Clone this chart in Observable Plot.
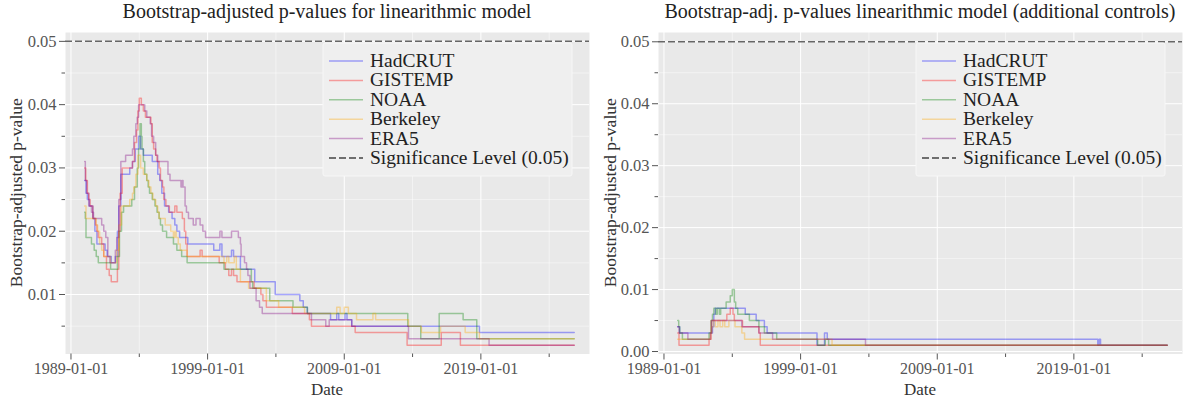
<!DOCTYPE html>
<html><head><meta charset="utf-8">
<script src="https://cdn.jsdelivr.net/npm/d3@7"></script>
<script src="https://cdn.jsdelivr.net/npm/@observablehq/plot@0.6"></script>
<style>
body{margin:0;background:#fff;}
#wrap{position:relative;width:1193px;height:400px;overflow:hidden;}
</style></head><body><div id="wrap"></div>
<script>
// ---------- data ----------
const seriesNames = ["HadCRUT", "GISTEMP", "NOAA", "Berkeley", "ERA5"];
const seriesColors = ["#0000ff", "#ff0000", "#008000", "#ffa500", "#800080"];
const sigLevel = 0.05;
const sigLabel = "Significance Level (0.05)";
const titleLeft = "Bootstrap-adjusted p-values for linearithmic model";
const titleRight = "Bootstrap-adj. p-values linearithmic model (additional controls)";
const yLabel = "Bootstrap-adjusted p-value";
const xLabel = "Date";
const xTickLabels = ["1989-01-01", "1999-01-01", "2009-01-01", "2019-01-01"];
const xMinorTickLabels = ["1994-01-01", "2004-01-01", "2014-01-01", "2024-01-01"];
const yTicksLeft = [0.01, 0.02, 0.03, 0.04, 0.05];
const yTicksRight = [0.00, 0.01, 0.02, 0.03, 0.04, 0.05];
const yMinorTicks = [0.005, 0.015, 0.025, 0.035, 0.045];

// [decimal year, p-value], step-after
const hadcrutLeft = [[1990.0,0.028],[1990.1,0.026],[1990.2,0.025],[1990.35,0.024],[1990.6,0.022],[1990.75,0.020],[1990.9,0.018],[1991.5,0.017],[1991.65,0.016],[1991.95,0.015],[1992.25,0.016],[1992.4,0.020],[1992.5,0.024],[1992.65,0.029],[1993.3,0.030],[1993.5,0.031],[1993.7,0.033],[1993.95,0.035],[1994.1,0.033],[1994.3,0.032],[1994.95,0.031],[1995.35,0.029],[1995.5,0.028],[1995.65,0.026],[1995.85,0.024],[1996.15,0.023],[1996.4,0.022],[1996.6,0.021],[1996.75,0.020],[1996.95,0.019],[1997.55,0.018],[1999.45,0.017],[1999.9,0.018],[2000.05,0.016],[2000.75,0.017],[2000.9,0.016],[2001.4,0.014],[2002.45,0.012],[2003.95,0.010],[2005.75,0.009],[2006.0,0.008],[2006.3,0.007],[2008.0,0.006],[2008.45,0.007],[2008.6,0.006],[2009.05,0.007],[2009.2,0.006],[2009.55,0.005],[2018.9,0.004],[2025.83,0.004]];
const gistempLeft = [[1990.0,0.030],[1990.08,0.028],[1990.2,0.026],[1990.3,0.025],[1990.4,0.024],[1990.6,0.022],[1990.8,0.021],[1990.9,0.020],[1991.0,0.019],[1991.25,0.018],[1991.4,0.016],[1991.6,0.014],[1991.8,0.013],[1991.95,0.012],[1992.4,0.014],[1992.5,0.020],[1992.6,0.026],[1992.75,0.030],[1993.5,0.031],[1993.65,0.034],[1993.8,0.036],[1993.9,0.039],[1994.0,0.041],[1994.15,0.040],[1994.3,0.039],[1994.45,0.038],[1994.85,0.037],[1994.95,0.034],[1995.05,0.033],[1995.2,0.032],[1995.3,0.031],[1995.45,0.030],[1995.55,0.028],[1995.7,0.027],[1995.8,0.025],[1995.95,0.024],[1996.2,0.023],[1996.6,0.024],[1996.75,0.023],[1997.15,0.022],[1997.3,0.020],[1997.4,0.018],[1997.5,0.016],[1998.45,0.017],[1998.6,0.016],[1999.85,0.015],[2000.3,0.014],[2000.55,0.013],[2000.75,0.014],[2000.9,0.013],[2001.15,0.012],[2002.4,0.011],[2002.9,0.010],[2003.05,0.009],[2003.3,0.008],[2005.2,0.007],[2006.45,0.006],[2006.6,0.005],[2009.8,0.004],[2013.6,0.002],[2016.1,0.004],[2017.5,0.002],[2025.83,0.002]];
const noaaLeft = [[1990.0,0.023],[1990.05,0.022],[1990.1,0.019],[1990.5,0.018],[1990.7,0.017],[1990.85,0.016],[1991.0,0.015],[1991.9,0.014],[1992.4,0.016],[1992.55,0.020],[1992.7,0.023],[1992.85,0.024],[1993.45,0.025],[1993.65,0.027],[1993.85,0.030],[1993.95,0.033],[1994.05,0.037],[1994.15,0.035],[1994.2,0.033],[1994.3,0.031],[1994.4,0.029],[1994.55,0.028],[1994.65,0.027],[1994.75,0.026],[1994.95,0.025],[1995.15,0.024],[1995.3,0.023],[1995.45,0.022],[1995.55,0.021],[1995.7,0.020],[1996.0,0.019],[1996.5,0.018],[1996.75,0.017],[1997.1,0.016],[1997.5,0.015],[2000.2,0.014],[2002.2,0.012],[2002.3,0.011],[2003.55,0.009],[2005.25,0.008],[2006.3,0.007],[2013.65,0.005],[2014.6,0.003],[2015.95,0.007],[2017.7,0.006],[2018.7,0.003],[2025.83,0.003]];
const berkeleyLeft = [[1990.0,0.024],[1990.1,0.022],[1990.85,0.021],[1990.95,0.020],[1991.1,0.018],[1991.25,0.017],[1991.4,0.016],[1991.9,0.015],[1992.35,0.017],[1992.5,0.021],[1992.7,0.024],[1993.3,0.025],[1993.5,0.026],[1993.6,0.027],[1993.75,0.029],[1993.9,0.032],[1994.1,0.030],[1994.3,0.029],[1994.55,0.028],[1994.7,0.027],[1994.85,0.026],[1995.0,0.025],[1995.2,0.024],[1995.35,0.023],[1995.45,0.022],[1995.9,0.021],[1996.3,0.020],[1996.5,0.019],[1996.6,0.020],[1996.7,0.019],[1996.85,0.018],[1997.0,0.017],[1997.5,0.016],[2000.2,0.015],[2000.4,0.016],[2000.55,0.015],[2000.95,0.016],[2001.1,0.014],[2001.4,0.012],[2002.0,0.011],[2003.3,0.009],[2004.2,0.008],[2006.1,0.007],[2008.45,0.008],[2008.7,0.007],[2009.0,0.008],[2009.3,0.007],[2009.9,0.006],[2011.1,0.007],[2011.3,0.006],[2013.7,0.005],[2014.65,0.004],[2016.05,0.005],[2017.85,0.004],[2018.9,0.003],[2025.83,0.003]];
const era5Left = [[1990.0,0.031],[1990.05,0.028],[1990.15,0.026],[1990.3,0.024],[1990.5,0.023],[1990.65,0.022],[1991.25,0.021],[1991.4,0.020],[1991.55,0.019],[1991.7,0.016],[1991.85,0.015],[1992.25,0.017],[1992.35,0.019],[1992.5,0.025],[1992.65,0.031],[1993.0,0.032],[1993.5,0.033],[1993.6,0.035],[1993.75,0.037],[1993.85,0.038],[1993.95,0.040],[1994.4,0.039],[1994.55,0.038],[1994.8,0.037],[1994.9,0.035],[1995.05,0.034],[1995.2,0.032],[1995.35,0.031],[1996.1,0.029],[1996.25,0.028],[1997.05,0.027],[1997.15,0.028],[1997.2,0.027],[1997.35,0.024],[1997.45,0.023],[1997.6,0.022],[1997.95,0.021],[1998.15,0.022],[1998.45,0.021],[1998.65,0.020],[1998.85,0.019],[1999.9,0.020],[2000.05,0.019],[2000.75,0.020],[2001.25,0.019],[2001.4,0.018],[2001.45,0.016],[2001.7,0.015],[2001.85,0.014],[2001.95,0.013],[2002.1,0.011],[2002.55,0.009],[2002.8,0.008],[2003.0,0.007],[2006.6,0.006],[2007.65,0.005],[2007.9,0.006],[2009.55,0.005],[2013.7,0.003],[2019.6,0.002],[2025.83,0.002]];

const hadcrutRight = [[1990.0,0.004],[1990.15,0.003],[1992.55,0.004],[1992.65,0.006],[1992.75,0.007],[1994.95,0.006],[1995.75,0.005],[1996.35,0.004],[1996.55,0.003],[2000.2,0.001],[2000.75,0.003],[2000.95,0.002],[2020.75,0.001],[2020.85,0.002],[2020.95,0.001],[2025.83,0.001]];
const gistempRight = [[1990.0,0.003],[1990.1,0.001],[1992.3,0.002],[1992.45,0.005],[1993.6,0.006],[1993.85,0.007],[1994.05,0.006],[1994.15,0.005],[1994.75,0.004],[1995.95,0.003],[1996.05,0.001],[2025.83,0.001]];
const noaaRight = [[1990.0,0.005],[1990.08,0.004],[1990.15,0.003],[1990.35,0.002],[1992.3,0.003],[1992.45,0.005],[1992.55,0.006],[1992.65,0.007],[1992.8,0.006],[1992.9,0.007],[1993.05,0.006],[1993.15,0.007],[1993.55,0.008],[1993.85,0.009],[1994.0,0.010],[1994.15,0.008],[1994.25,0.007],[1994.4,0.006],[1995.25,0.005],[1995.95,0.004],[1996.35,0.003],[1997.25,0.002],[2000.25,0.001],[2000.8,0.002],[2001.05,0.001],[2025.83,0.001]];
const berkeleyRight = [[1990.0,0.002],[1992.4,0.003],[1992.5,0.004],[1992.6,0.005],[1992.75,0.004],[1992.95,0.005],[1993.1,0.004],[1993.3,0.005],[1993.45,0.004],[1993.75,0.005],[1994.2,0.004],[1994.7,0.003],[1994.9,0.002],[2001.3,0.001],[2025.83,0.001]];
const era5Right = [[1990.0,0.004],[1990.1,0.003],[1990.75,0.002],[1992.4,0.003],[1992.5,0.005],[1994.7,0.004],[1995.95,0.003],[1996.95,0.002],[2003.75,0.001],[2025.83,0.001]];

// ---------- helpers ----------
const toDate = t => { const y = Math.floor(t); const s = Date.UTC(y,0,1), e = Date.UTC(y+1,0,1); return new Date(s + (t - y) * (e - s)); };
const parse = d3.utcParse("%Y-%m-%d");
const fmt = d3.utcFormat("%Y-%m-%d");
const FONT = "'Liberation Serif', 'DejaVu Serif', serif";

function panel(opts) {
  const {series, title, yDomain, yTicks, width, marginLeft, marginRight, left} = opts;
  const rows = [];
  series.forEach((arr, i) => arr.forEach(([t, v]) => rows.push({series: seriesNames[i], date: toDate(t), value: v})));
  const yMinor = yMinorTicks.filter(v => v >= yDomain[0] && v <= yDomain[1]);
  const xMajor = xTickLabels.map(parse);
  const xMinor = xMinorTickLabels.map(parse);
  const marginTop = 32, marginBottom = 46.5, height = 400;
  const svg = Plot.plot({
    width, height, marginLeft, marginRight, marginTop, marginBottom,
    style: {fontFamily: FONT, fontSize: "16px", color: "#555", background: "transparent", overflow: "visible"},
    x: {type: "utc", domain: [toDate(1988.6), toDate(2026.95)]},
    y: {domain: yDomain},
    color: {domain: seriesNames, range: seriesColors},
    marks: [
      Plot.frame({fill: "#E9E9E9", stroke: null}),
      Plot.gridY(yMinor, {stroke: "#fff", strokeOpacity: 0.8, strokeWidth: 0.6}),
      Plot.gridX(xMinor, {stroke: "#fff", strokeOpacity: 0.8, strokeWidth: 0.6}),
      Plot.gridY(yTicks, {stroke: "#fff", strokeOpacity: 1, strokeWidth: 1}),
      Plot.gridX(xMajor, {stroke: "#fff", strokeOpacity: 1, strokeWidth: 1}),
      Plot.axisY(yTicks, {tickSize: 6, tickPadding: 3, tickFormat: d => d.toFixed(2), label: null, fontSize: 16.5, stroke: "#555", fill: "#555"}),
      Plot.axisY(yMinor, {tickSize: 3.5, tickFormat: () => "", label: null, stroke: "#555"}),
      Plot.axisX(xMajor, {tickSize: 6, tickPadding: 3, tickFormat: fmt, label: null, fontSize: 16, stroke: "#555", fill: "#555"}),
      Plot.axisX(xMinor, {tickSize: 3.5, tickFormat: () => "", label: null, stroke: "#555"}),
      Plot.ruleY([sigLevel], {stroke: "#666", strokeDasharray: "7,3", strokeWidth: 1.5}),
      Plot.line(rows, {x: "date", y: "value", z: "series", stroke: "series", curve: "step-after", strokeWidth: 1.5, strokeOpacity: 0.35})
    ]
  });
  svg.style.position = "absolute";
  svg.style.left = left + "px";
  svg.style.top = "0px";
  const s = d3.select(svg);
  const plotW = width - marginLeft - marginRight;
  const cx = marginLeft + plotW / 2;
  const cy = marginTop + (height - marginTop - marginBottom) / 2;
  s.append("text").attr("x", cx).attr("y", 18).attr("text-anchor", "middle")
    .attr("font-family", FONT).attr("font-size", opts.titleSize).attr("fill", "#222").text(title);
  s.append("text").attr("x", cx).attr("y", 394.5).attr("text-anchor", "middle")
    .attr("font-family", FONT).attr("font-size", 17).attr("fill", "#333").text(xLabel);
  s.append("text").attr("transform", `translate(${opts.yLabelX},${cy}) rotate(-90)`).attr("text-anchor", "middle")
    .attr("font-family", FONT).attr("font-size", 17.5).attr("fill", "#333").text(yLabel);
  // legend
  const lx = marginLeft + 258, ly = 43;
  const g = s.append("g");
  g.append("rect").attr("x", lx).attr("y", ly).attr("width", 249).attr("height", 133).attr("rx", 2)
    .attr("fill", "#EFEFEF").attr("stroke", "#F7F7F7").attr("stroke-width", 1);
  const items = seriesNames.map((n, i) => ({name: n, color: seriesColors[i], op: 0.35, dash: null}))
    .concat([{name: sigLabel, color: "#444", op: 1, dash: "7,3"}]);
  items.forEach((it, i) => {
    const yy = ly + 18 + i * 19.4;
    const ln = g.append("line").attr("x1", lx + 6).attr("x2", lx + 40).attr("y1", yy).attr("y2", yy)
      .attr("stroke", it.color).attr("stroke-opacity", it.op).attr("stroke-width", 1.5);
    if (it.dash) ln.attr("stroke-dasharray", it.dash);
    g.append("text").attr("x", lx + 47).attr("y", yy + 6).attr("text-anchor", "start")
      .attr("font-family", FONT).attr("font-size", 19.5)
      .attr("fill", "#222").text(it.name);
  });
  return svg;
}

const wrap = document.getElementById("wrap");
wrap.appendChild(panel({
  series: [hadcrutLeft, gistempLeft, noaaLeft, berkeleyLeft, era5Left],
  title: titleLeft, titleSize: 20, yDomain: [0.0006, 0.0514], yTicks: yTicksLeft,
  width: 596, marginLeft: 65, marginRight: 7, left: 0, yLabelX: 22
}));
wrap.appendChild(panel({
  series: [hadcrutRight, gistempRight, noaaRight, berkeleyRight, era5Right],
  title: titleRight, titleSize: 20, yDomain: [-0.0004, 0.0515], yTicks: yTicksRight,
  width: 597, marginLeft: 62, marginRight: 11, left: 596, yLabelX: 20
}));
</script>
</body></html>
